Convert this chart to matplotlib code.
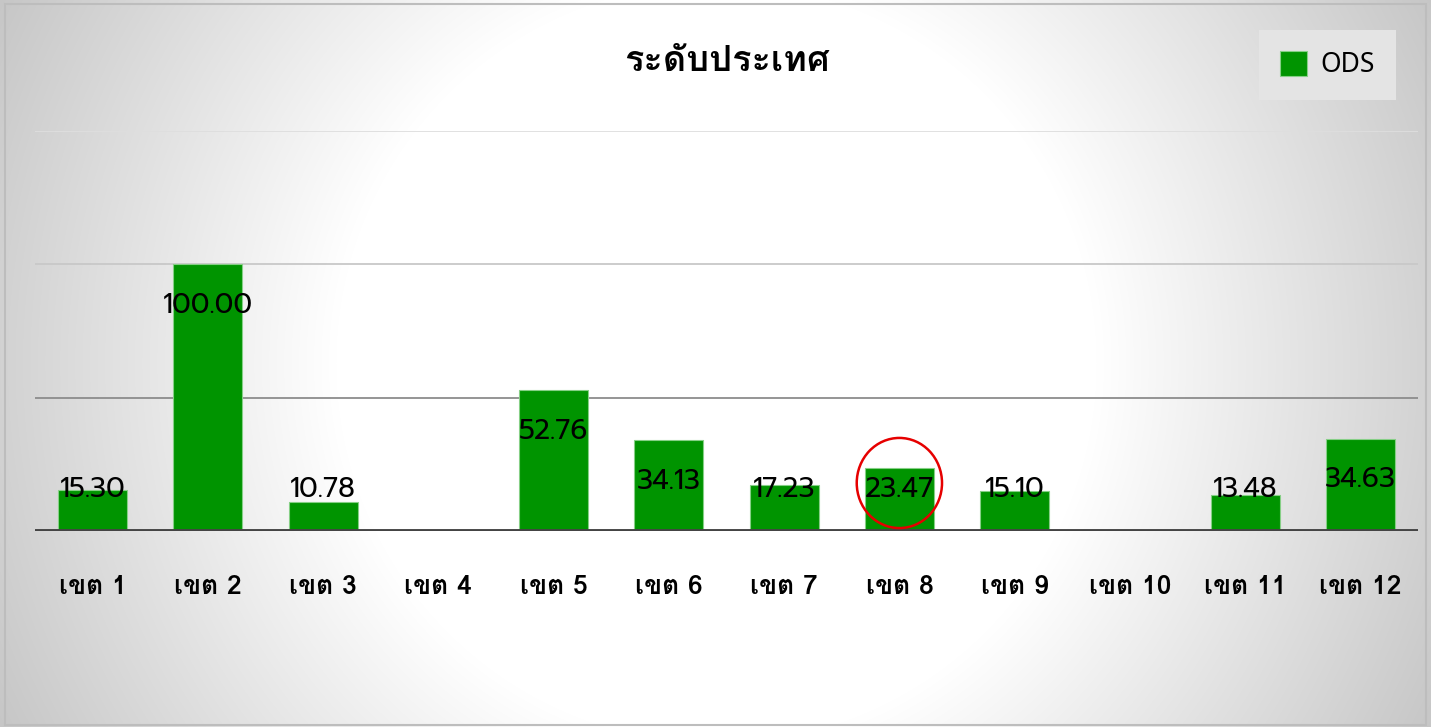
import matplotlib
matplotlib.use("Agg")
import matplotlib.pyplot as plt
from matplotlib.patches import Ellipse, Rectangle
import numpy as np

# data
categories = ['เขต 1', 'เขต 2', 'เขต 3', 'เขต 4', 'เขต 5', 'เขต 6',
              'เขต 7', 'เขต 8', 'เขต 9', 'เขต 10', 'เขต 11', 'เขต 12']
ods = [15.30, 100.00, 10.78, 0, 52.76, 34.13, 17.23, 23.47, 15.10, 0, 13.48, 34.63]
has_value = [True, True, True, False, True, True, True, True, True, False, True, True]
series_name = 'ODS'
title = 'ระดับประเทศ'
highlight = 7  # เขต 8 is circled
grid_vals = [50, 100, 150]

W, H = 1431, 727
fig = plt.figure(figsize=(W / 100, H / 100), dpi=100)

# radial grey -> white background
bg = fig.add_axes([0, 0, 1, 1], zorder=-10)
yy, xx = np.mgrid[0:H, 0:W]
r = np.hypot(xx - 716, yy - 363)
shade = np.clip(255 - 0.134 * np.clip(r - 380, 0, None), 0, 255) / 255.0
bg.imshow(np.dstack([shade] * 3), extent=[0, W, H, 0], aspect='auto')
bg.add_patch(Rectangle((5, 4), 1421, 721, fill=False, edgecolor='#bdbdbd', lw=1.5))
bg.set_xlim(0, W)
bg.set_ylim(H, 0)
bg.axis('off')

ax = fig.add_axes([35 / W, 1 - 531 / H, (1418 - 35) / W, (531 - 131) / H])
ax.patch.set_alpha(0)
x = np.arange(len(categories))
bars = ax.bar(x, ods, width=0.6, color='#009400', edgecolor='#86cf86', linewidth=0.8,
              label=series_name, zorder=3)

# gridlines
for g, c in zip(grid_vals, ['#8c8c8c', '#c8c8c8', '#dedede']):
    ax.axhline(g, color=c, lw=1.3, zorder=1)
ax.axhline(0, color='#444444', lw=2.8, zorder=4)

ax.set_xlim(-0.5, len(categories) - 0.5)
ax.set_ylim(0, 150)
ax.set_yticks([])
for s in ax.spines.values():
    s.set_visible(False)
ax.set_xticks(x)
ax.set_xticklabels(categories, family=['Loma', 'DejaVu Sans'], fontsize=19, fontweight='bold')
ax.tick_params(axis='x', length=0, pad=32)

# data labels (inside end, kept above the baseline)
for xi, v, ok in zip(x, ods, has_value):
    if not ok:
        continue
    ax.text(xi, max(v - 15.4, 15.4), f'{v:.2f}', ha='center', va='center',
            family=['Prompt', 'DejaVu Sans'], fontweight='normal', fontsize=20, zorder=5)

# red circle around เขต 8
ax.add_patch(Ellipse((x[highlight], 18.0), 0.74, 33.8, fill=False, edgecolor='#e60000',
                     lw=1.8, zorder=6))

fig.text(727 / W, 1 - 62 / H, title, ha='center', va='center',
         family=['Loma', 'DejaVu Sans'], fontsize=26, fontweight='bold')

leg = fig.legend(handles=[bars], labels=[series_name], loc='upper right',
                 bbox_to_anchor=(1396 / W, 1 - 30 / H), frameon=True, fancybox=False,
                 prop={'family': ['Noto Sans', 'DejaVu Sans'], 'size': 19},
                 handlelength=1.05, handleheight=1.05, handletextpad=0.5,
                 borderpad=0.8, borderaxespad=0)
leg.get_frame().set_facecolor('#e4e4e4')
leg.get_frame().set_edgecolor('none')
leg.get_frame().set_alpha(1)

fig.savefig('out.png', dpi=100)
